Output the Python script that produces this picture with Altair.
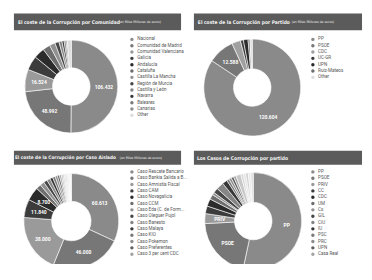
import altair as alt
import pandas as pd

# ---------------- data ----------------
com_names = ["Nacional", "Comunidad de Madrid", "Comunidad Valenciana", "Galicia", "Andalucía",
             "Cataluña", "Castilla La Mancha", "Región de Murcia", "Castilla y León", "Navarra",
             "Baleares", "Canarias", "Other"]
com_values = [106.432, 48.992, 16.524, 10.5, 8.0, 5.5, 4.2, 3.0, 2.2, 1.6, 1.3, 1.0, 3.0]

par_names = ["PP", "PSOE", "CDC", "UC-GR", "UPN", "Ruiz-Mateos", "Other"]
par_values = [120.604, 12.588, 4.2, 1.4, 2.2, 0.9, 1.1]

caso_names = ["Caso Rescate Bancario", "Caso Bankia Salida a B...", "Caso Amnistía Fiscal", "Caso CAM",
              "Caso Novagalicia", "Caso CCM", "Caso Eda (C. de Form...", "Caso Oleguer Pujol",
              "Caso Banesto", "Caso Malaya", "Caso KIO", "Caso Pokemon", "Caso Preferentes",
              "Caso 3 per cent CDC", "Caso Gürtel", "Caso Nóos", "Caso Palau", "Caso ERE",
              "Caso Púnica", "Caso Brugal", "Caso Campeón", "Caso Pretoria", "Caso Fabra",
              "Caso Auditorio"]
caso_values = [60.613, 46.000, 38.000, 11.840, 8.700, 3.2, 2.8, 2.4, 2.1, 1.9, 1.7, 1.5, 1.3, 1.2,
               1.0, 0.9, 0.8, 0.7, 0.7, 0.6, 0.5, 0.5, 0.4, 0.4]
caso_legend = caso_names[:14]

pc_names = ["PP", "PSOE", "PRIV", "CC", "CDC", "UM", "Cs", "GIL", "CiU", "IU", "PSC", "PRC", "UPN",
            "Casa Real", "ERC", "PNV", "BNG", "PAR", "CHA", "PA"]
pc_values = [64, 25, 4, 3, 3, 2, 1, 2, 3, 2, 1, 1, 1, 1, 2, 1, 1, 1, 1, 1]
pc_legend = pc_names[:14]

titles = ["El coste de la Corrupción por Comunidad", "El coste de la Corrupción por Partido",
          "El coste de la Corrupción por Caso Aislado", "Los Casos de Corrupción por partido"]
subtitle = "(en Miles Millones de euros)"

# ---------------- styles ----------------
base_pal = ["#8a8a8a", "#777777", "#9a9a9a", "#3c3c3c", "#2b2b2b", "#6d6d6d", "#909090",
            "#474747", "#858585", "#383838", "#7a7a7a", "#8e8e8e", "#5f5f5f", "#a3a3a3"]
com_colors = base_pal[:12] + ["#dcdcdc"]
par_colors = ["#8a8a8a", "#777777", "#a0a0a0", "#3c3c3c", "#2b2b2b", "#6d6d6d", "#dcdcdc"]
caso_colors = base_pal + ["#b5b5b5", "#c4c4c4", "#cfcfcf", "#bdbdbd", "#d8d8d8", "#c9c9c9",
                          "#e0e0e0", "#d2d2d2", "#e6e6e6", "#dadada"]
pc_colors = base_pal + ["#c8c8c8", "#d6d6d6", "#e2e2e2", "#cfcfcf", "#e8e8e8", "#dddddd"]

TFONT = "DejaVu Sans Condensed, Liberation Sans Narrow, Roboto, sans-serif"
LFONT = "Roboto, Open Sans, sans-serif"
one = alt.Data(values=[{"a": 1}])


def bar(x0, x1, y0, y1):
    return alt.Chart(one).mark_rect(color="#5b5b5b").encode(
        x=alt.value(x0), x2=alt.value(x1), y=alt.value(y0), y2=alt.value(y1))


def ttext(s, x, y, size, weight="bold"):
    return alt.Chart(one).mark_text(align="left", baseline="middle", color="#f2f2f2",
                                    font=TFONT, fontSize=size, fontWeight=weight).encode(
        x=alt.value(x), y=alt.value(y), text=alt.value(s))


def panel(names, values, colors, cx, cy, r_in, r_out, lx, ly, legend_vals, thr, use_names=False):
    total = float(sum(values))
    labs = []
    for n, v in zip(names, values):
        if v / total > thr:
            labs.append(n if use_names else f"{v:.3f}")
        else:
            labs.append("")
    df = pd.DataFrame({"cat": names, "value": values, "idx": list(range(len(names))), "lab": labs})
    base = alt.Chart(df).encode(
        theta=alt.Theta("value:Q", stack=True),
        order=alt.Order("idx:Q", sort="ascending"),
        x=alt.value(cx), y=alt.value(cy))
    arc = base.mark_arc(innerRadius=r_in, outerRadius=r_out, stroke="#ffffff", strokeWidth=0.6).encode(
        color=alt.Color("cat:N", scale=alt.Scale(domain=names, range=colors),
                        legend=alt.Legend(orient="none", legendX=lx, legendY=ly, title=None,
                                          symbolType="circle", symbolSize=12, symbolStrokeWidth=0,
                                          labelFontSize=4.6, labelColor="#555555", labelFont=LFONT,
                                          rowPadding=0.4, padding=0, labelOffset=3, labelLimit=90,
                                          values=legend_vals)))
    txt = base.mark_text(radius=(r_in + r_out) / 2, color="white", fontSize=5, fontWeight="bold",
                         font=LFONT).encode(text="lab:N")
    return alt.layer(arc, txt)


p1 = panel(com_names, com_values, com_colors, 64, 78, 19, 47, 123, 28, com_names, 0.05)
p2 = panel(par_names, par_values, par_colors, 247, 79, 19, 49, 306, 28, par_names, 0.05)
p3 = panel(caso_names, caso_values, caso_colors, 64, 214, 20, 48, 123, 162, caso_legend, 0.04)
p4 = panel(pc_names, pc_values, pc_colors, 248, 214, 19, 49, 306, 162, pc_legend, 0.03, use_names=True)

deco = [
    bar(6, 175, 4, 21), bar(188, 358, 4, 21), bar(6, 175, 143, 157), bar(188, 358, 143, 157),
    ttext(titles[0], 10, 12.5, 5.0), ttext(subtitle, 112, 13, 3.4, "normal"),
    ttext(titles[1], 192, 12.5, 5.0), ttext(subtitle, 287, 13, 3.4, "normal"),
    ttext(titles[2], 7, 150, 4.8), ttext(subtitle, 113, 150.5, 3.4, "normal"),
    ttext(titles[3], 191, 150, 5.0),
]

chart = alt.layer(*deco, p1, p2, p3, p4).resolve_scale(
    theta="independent", color="independent"
).properties(
    width=360, height=256, background="white", padding=0,
    autosize=alt.AutoSizeParams(type="none")
).configure_view(strokeWidth=0)

chart.save("out.html", embed_options={"renderer": "svg", "actions": False})
